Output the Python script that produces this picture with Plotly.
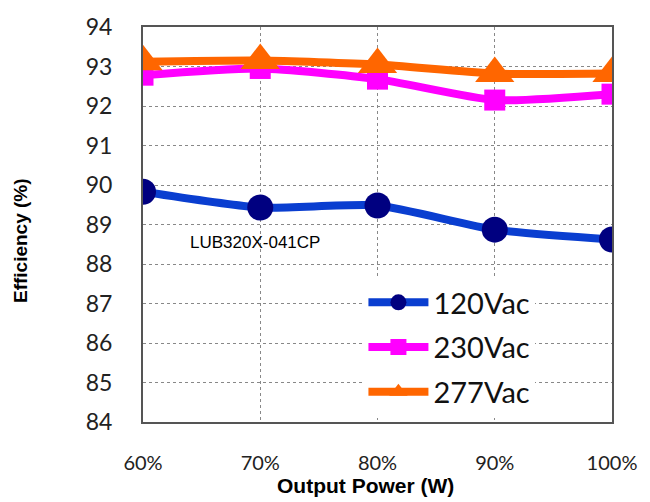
import plotly.graph_objects as go

categories = ["60%", "70%", "80%", "90%", "100%"]
eff_120 = [89.83, 89.43, 89.48, 88.87, 88.62]
eff_230 = [92.78, 92.95, 92.68, 92.15, 92.30]
eff_277 = [93.12, 93.15, 93.05, 92.82, 92.82]
series_names = ["120Vac", "230Vac", "277Vac"]
y_ticks = [84, 85, 86, 87, 88, 89, 90, 91, 92, 93, 94]

PH = 395.0  # plot height in px used for paper-relative placement

fig = go.Figure()
fig.add_trace(go.Scatter(
    x=categories, y=eff_120, name=series_names[0], mode="lines+markers",
    line=dict(color="#0A3ED0", width=8, shape="spline", smoothing=0.6),
    marker=dict(symbol="circle", size=26, color="#000080"),
    legendgroup="a"))
fig.add_trace(go.Scatter(
    x=categories, y=eff_230, name=series_names[1], mode="lines+markers",
    line=dict(color="#FF00FF", width=8, shape="spline", smoothing=0.6),
    marker=dict(symbol="square", size=21, color="#FF00FF"),
    legendgroup="b"))
fig.add_trace(go.Scatter(
    x=categories, y=eff_277, name=series_names[2], mode="lines+markers",
    line=dict(color="#FF6600", width=8, shape="spline", smoothing=0.6),
    marker=dict(symbol="triangle-up", size=34, color="#FF6600"),
    legendgroup="c"))

fig.update_layout(
    width=642, height=494,
    margin=dict(l=135, r=38, t=19, b=80, autoexpand=False),
    paper_bgcolor="white", plot_bgcolor="white",
    showlegend=True,
    legend=dict(x=0.47, y=(422 - 277) / PH, xanchor="left", yanchor="top",
                bgcolor="white", font=dict(family="Lato", size=29, color="#111"),
                itemwidth=60, tracegroupgap=4, traceorder="grouped"),
    font=dict(family="Lato", color="#222"),
)
fig.update_xaxes(
    type="category", range=[0, 4], showgrid=True, automargin=False,
    gridcolor="#888", griddash="dot", gridwidth=1,
    showline=True, linecolor="#555", linewidth=2, mirror=True,
    tickfont=dict(family="Lato", size=20, color="#222"),
    ticks="", ticklabelstandoff=22, zeroline=False)
fig.update_yaxes(
    range=[84, 94], tickvals=y_ticks,
    showgrid=True, automargin=False,
    gridcolor="#888", griddash="dot", gridwidth=1,
    showline=True, linecolor="#555", linewidth=2, mirror=True,
    tickfont=dict(family="Lato", size=23, color="#222"),
    ticks="", ticklabelstandoff=24, zeroline=False)

fig.add_annotation(text="<b>Efficiency (%)</b>", xref="paper", yref="paper",
                   x=(20 - 143) / 469, y=(422 - 241) / PH, textangle=-90,
                   showarrow=False, xanchor="center", yanchor="middle",
                   font=dict(family="Liberation Sans", size=19, color="black"))
fig.add_annotation(text="<b>Output Power (W)</b>", xref="paper", yref="paper",
                   x=(365 - 143) / 469, y=(422 - 485) / PH, showarrow=False,
                   xanchor="center", yanchor="middle",
                   font=dict(family="Liberation Sans", size=21, color="black"))
fig.add_annotation(text="LUB320X-041CP", xref="paper", yref="paper",
                   x=(255 - 143) / 469, y=(422 - 242) / PH, showarrow=False,
                   xanchor="center", yanchor="middle",
                   font=dict(family="Liberation Sans", size=17, color="black"))

fig.write_html("out.html", config={"displayModeBar": False})
